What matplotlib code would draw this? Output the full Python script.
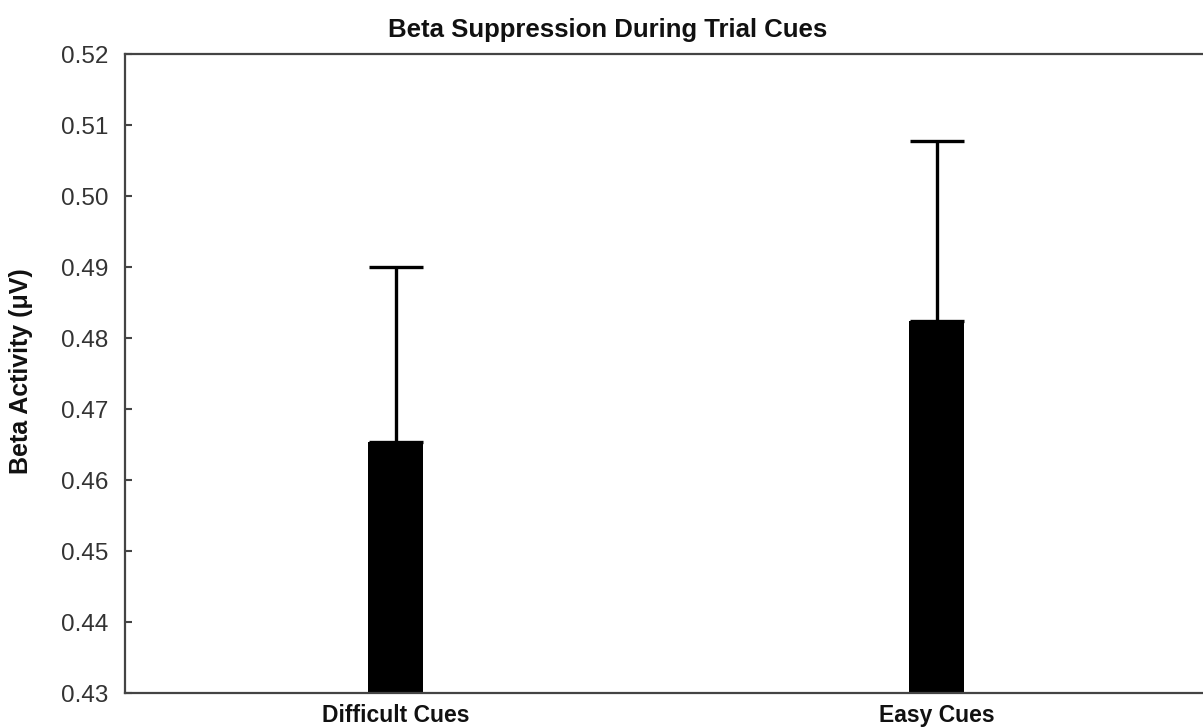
import matplotlib
matplotlib.use("Agg")
import matplotlib.pyplot as plt

categories = ["Difficult Cues", "Easy Cues"]
means = [0.4653, 0.4824]
upper_err = [0.0247, 0.0254]
yticks = [0.43, 0.44, 0.45, 0.46, 0.47, 0.48, 0.49, 0.50, 0.51, 0.52]

plt.rcParams['font.family'] = ['Liberation Sans', 'DejaVu Sans']

fig = plt.figure(figsize=(12.03, 7.28), dpi=100)
ax = fig.add_axes([125/1203, 1 - 693/728, 1082/1203, (693 - 54)/728])

x = list(range(len(categories)))
ax.bar(x, means, width=0.1, color='black', zorder=2)
ax.errorbar(x, means, yerr=[[0]*len(means), upper_err], fmt='none',
            ecolor='black', elinewidth=2.4, capsize=19.5, capthick=2.4, zorder=3)

ax.set_xlim(-0.5, 1.5)
ax.set_ylim(0.43, 0.52)
ax.set_yticks(yticks)
ax.set_yticklabels([f"{t:.2f}" for t in yticks], fontsize=17.5, color='#333333')
ax.set_xticks(x)
ax.set_xticklabels(categories, fontsize=16.5, fontweight='bold', color='#111111')
ax.tick_params(axis='y', direction='in', length=5, width=1.5, color='#444444', pad=12)
ax.tick_params(axis='x', length=0, pad=8)

for side in ['left', 'top', 'bottom']:
    ax.spines[side].set_color('#444444')
    ax.spines[side].set_linewidth(1.6)
ax.spines['right'].set_visible(False)

fig.text(608/1203, 1 - 30/728, "Beta Suppression During Trial Cues",
         ha='center', va='center', fontsize=18.5, fontweight='bold', color='#111111')
fig.text(21/1203, 1 - 371/728, "Beta Activity (μV)", rotation=90,
         ha='center', va='center', fontsize=18, fontweight='bold', color='#111111')

fig.savefig("out.png", dpi=100)
